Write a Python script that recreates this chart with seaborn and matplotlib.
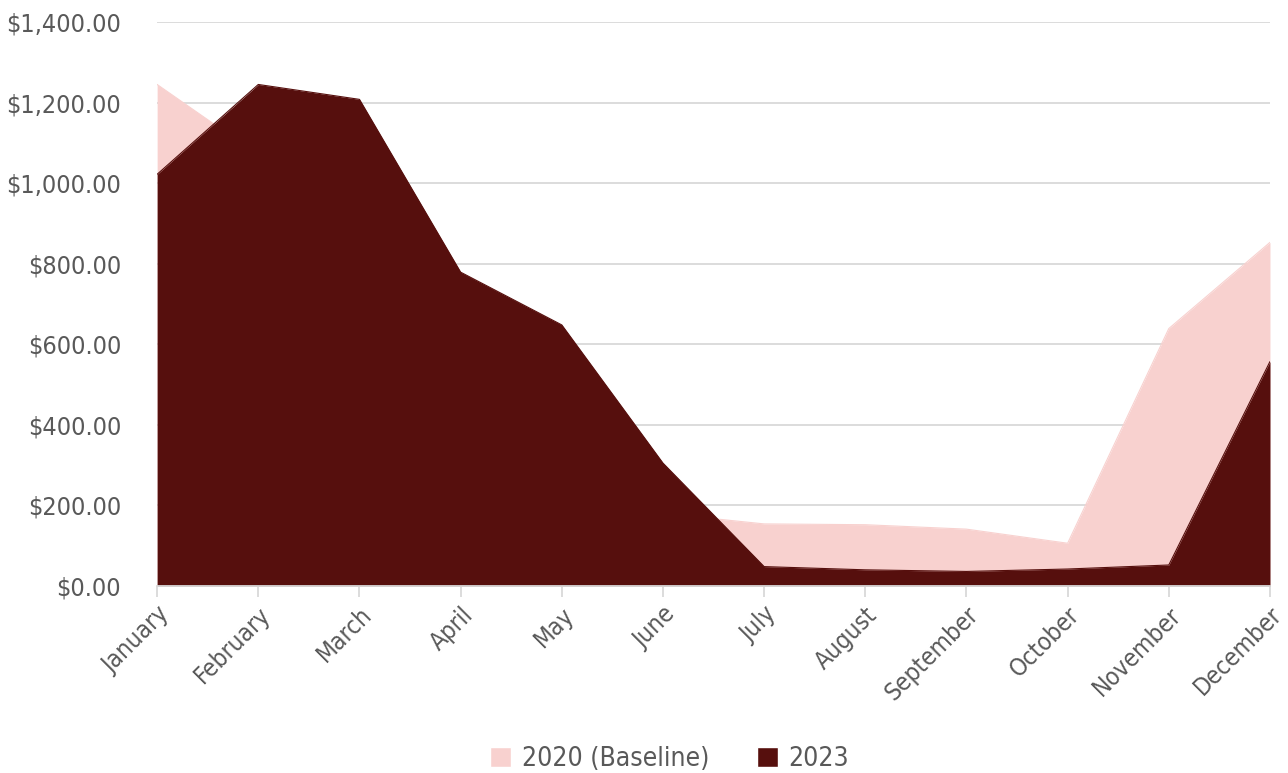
import matplotlib
matplotlib.use("Agg")
import matplotlib.pyplot as plt
import matplotlib.ticker as mticker
from matplotlib.patches import Patch
import pandas as pd
import seaborn as sns

months = ['January', 'February', 'March', 'April', 'May', 'June', 'July',
          'August', 'September', 'October', 'November', 'December']
baseline_2020 = [1245, 1070, 900, 600, 450, 180, 154, 152, 141, 106, 639, 853]
values_2023 = [1022, 1245, 1208, 779, 648, 305, 48, 40, 36, 42, 52, 557]

PINK = '#F8D1CF'
DARK = '#560F0D'
GREY = '#595959'

sns.set_style('white')
plt.rcParams['font.family'] = ['DejaVu Sans']
plt.rcParams['font.stretch'] = 'condensed'

df = pd.DataFrame({'month': months, 'idx': range(len(months)),
                   '2020 (Baseline)': baseline_2020, '2023': values_2023})

fig, ax = plt.subplots(figsize=(12.88, 7.73), dpi=100)
fig.subplots_adjust(left=0.122, right=0.986, top=0.9715, bottom=0.242)

z = 2
for col, color in [('2020 (Baseline)', PINK), ('2023', DARK)]:
    sns.lineplot(data=df, x='idx', y=col, color=color, linewidth=0.8, ax=ax, zorder=z + 1)
    ax.fill_between(df['idx'], df[col], color=color, linewidth=0, zorder=z)
    z += 2

ax.set_xlim(0, 11)
ax.set_ylim(0, 1400)
ax.yaxis.set_major_locator(mticker.MultipleLocator(200))
ax.yaxis.set_major_formatter(mticker.FuncFormatter(lambda v, p: f'${v:,.2f}'))
ax.set_xticks(range(len(months)))
ax.set_xticklabels(months, rotation=45, ha='right', rotation_mode='anchor')
ax.set_xlabel('')
ax.set_ylabel('')

ax.grid(True, axis='y', color='#D9D9D9', linewidth=1.3, zorder=0)
ax.set_axisbelow(True)
for side in ['top', 'right', 'left']:
    ax.spines[side].set_visible(False)
ax.spines['bottom'].set_color('#D9D9D9')
ax.spines['bottom'].set_linewidth(1.3)
ax.spines['bottom'].set_zorder(10)

ax.tick_params(axis='y', length=0, labelsize=18, labelcolor=GREY, pad=26)
ax.tick_params(axis='x', length=8, width=1.3, color='#D9D9D9', labelsize=17.5,
               labelcolor=GREY, direction='out', bottom=True, pad=4)

handles = [Patch(facecolor=PINK, label='2020 (Baseline)'),
           Patch(facecolor=DARK, label='2023')]
fig.legend(handles=handles, loc='lower center', bbox_to_anchor=(0.52, -0.03),
           ncol=2, frameon=False, fontsize=19, labelcolor=GREY,
           handlelength=0.8, handleheight=0.8, handletextpad=0.4, columnspacing=1.8)

fig.savefig('out.png', dpi=100)
